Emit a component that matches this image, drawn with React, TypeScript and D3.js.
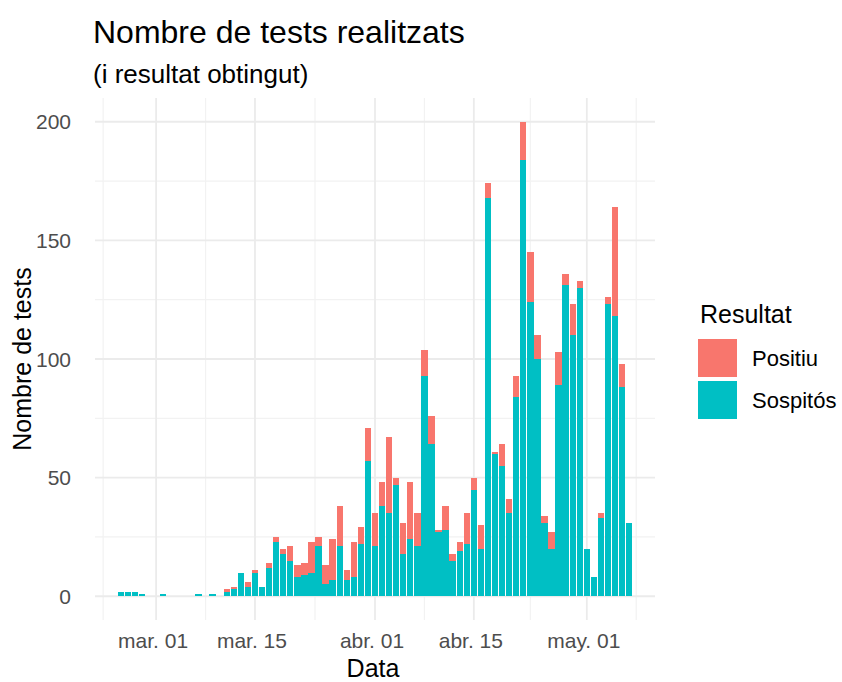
import React from "react";
import * as d3 from "d3";

const dates = [
  "2020-02-25", "2020-02-26", "2020-02-27", "2020-02-28", "2020-03-02", "2020-03-07", "2020-03-09",
  "2020-03-11", "2020-03-12", "2020-03-13", "2020-03-14", "2020-03-15", "2020-03-16", "2020-03-17",
  "2020-03-18", "2020-03-19", "2020-03-20", "2020-03-21", "2020-03-22", "2020-03-23", "2020-03-24",
  "2020-03-25", "2020-03-26", "2020-03-27", "2020-03-28", "2020-03-29", "2020-03-30", "2020-03-31",
  "2020-04-01", "2020-04-02", "2020-04-03", "2020-04-04", "2020-04-05", "2020-04-06", "2020-04-07",
  "2020-04-08", "2020-04-09", "2020-04-10", "2020-04-11", "2020-04-12", "2020-04-13", "2020-04-14",
  "2020-04-15", "2020-04-16", "2020-04-17", "2020-04-18", "2020-04-19", "2020-04-20", "2020-04-21",
  "2020-04-22", "2020-04-23", "2020-04-24", "2020-04-25", "2020-04-26", "2020-04-27", "2020-04-28",
  "2020-04-29", "2020-04-30", "2020-05-01", "2020-05-02", "2020-05-03", "2020-05-04", "2020-05-05",
  "2020-05-06", "2020-05-07",
];
const positiu = [
  0, 0, 0, 0, 0, 0, 0,
  1, 1, 0, 2, 1, 0, 2,
  2, 2, 6, 5, 5, 13, 4,
  8, 17, 17, 4, 15, 7, 14,
  14, 10, 32, 3, 13, 24, 14,
  11, 12, 1, 10, 3, 4, 13,
  5, 10, 6, 1, 9, 6, 9,
  16, 21, 10, 3, 7, 14, 5,
  13, 3, 0, 0, 2, 3, 46,
  10, 0,
];
const sospitos = [
  2, 2, 2, 1, 1, 1, 1,
  2, 3, 10, 4, 10, 4, 12,
  23, 18, 15, 8, 9, 10, 21,
  5, 7, 21, 7, 8, 22, 57,
  21, 38, 35, 47, 18, 24, 21,
  93, 64, 27, 28, 15, 19, 22,
  45, 20, 168, 60, 55, 35, 84,
  184, 124, 100, 31, 20, 89, 131,
  110, 130, 20, 8, 33, 123, 118,
  88, 31,
];

const xTickDates = ["2020-03-01", "2020-03-15", "2020-04-01", "2020-04-15", "2020-05-01"];
const xTickLabels = ["mar. 01", "mar. 15", "abr. 01", "abr. 15", "may. 01"];
const xOuterBreaks = ["2020-02-15", "2020-05-15"];
const yTicks = [0, 50, 100, 150, 200];
const yMinorTicks = [25, 75, 125, 175];

const seriesKeys = ["Sospitós", "Positiu"];
const seriesColors = ["#00BFC4", "#F8766D"];
const legendOrder = ["Positiu", "Sospitós"];

const DAY = 86400000;
const FONT = "'Liberation Sans', Arial, Helvetica, sans-serif";

export default function App() {
  const W = 842;
  const H = 682;
  const panel = { left: 95, right: 655, top: 98, bottom: 620 };

  const parsed = dates.map((d) => new Date(d + "T00:00:00Z").getTime());
  const minT = d3.min(parsed)! - 0.45 * DAY;
  const maxT = d3.max(parsed)! + 0.45 * DAY;
  const pad = (maxT - minT) * 0.044;

  const x = d3
    .scaleUtc()
    .domain([new Date(minT - pad), new Date(maxT + pad)])
    .range([panel.left, panel.right]);
  const y = d3.scaleLinear().domain([-10, 210]).range([panel.bottom, panel.top]);

  const table = dates.map((d, i) => ({
    t: parsed[i],
    "Sospitós": sospitos[i],
    Positiu: positiu[i],
  }));
  const stacked = d3.stack<any>().keys(seriesKeys)(table);

  const majorT = xTickDates.map((d) => new Date(d + "T00:00:00Z").getTime());
  const allBreaks = [
    new Date(xOuterBreaks[0] + "T00:00:00Z").getTime(),
    ...majorT,
    new Date(xOuterBreaks[1] + "T00:00:00Z").getTime(),
  ];
  const minorT = d3.pairs(allBreaks).map(([a, b]) => (a + b) / 2);

  const bw = x(new Date(0.9 * DAY)) - x(new Date(0));

  return (
    <svg width={W} height={H} style={{ display: "block", position: "absolute", left: 0, top: 0 }} fontFamily={FONT}>
      <rect width={W} height={H} fill="#ffffff" />
      {/* grid */}
      <g>
        {yMinorTicks.map((v) => (
          <line key={"ym" + v} x1={panel.left} x2={panel.right} y1={y(v)} y2={y(v)} stroke="#f2f2f2" strokeWidth={1.2} />
        ))}
        {minorT.map((t, i) => (
          <line key={"xm" + i} x1={x(new Date(t))} x2={x(new Date(t))} y1={panel.top} y2={panel.bottom} stroke="#f2f2f2" strokeWidth={1.2} />
        ))}
        {yTicks.map((v) => (
          <line key={"y" + v} x1={panel.left} x2={panel.right} y1={y(v)} y2={y(v)} stroke="#ebebeb" strokeWidth={1.8} />
        ))}
        {majorT.map((t, i) => (
          <line key={"x" + i} x1={x(new Date(t))} x2={x(new Date(t))} y1={panel.top} y2={panel.bottom} stroke="#ebebeb" strokeWidth={1.8} />
        ))}
      </g>
      {/* bars */}
      <g shapeRendering="crispEdges">
        {stacked.map((layer, li) => (
          <g key={layer.key} fill={seriesColors[li]}>
            {layer.map((seg: any, i: number) => {
              const h = y(seg[0]) - y(seg[1]);
              if (h <= 0) return null;
              return (
                <rect
                  key={i}
                  x={x(new Date(seg.data.t)) - bw / 2}
                  y={y(seg[1])}
                  width={bw}
                  height={h}
                />
              );
            })}
          </g>
        ))}
      </g>
      {/* y tick labels */}
      <g fill="#4d4d4d" fontSize={21} textAnchor="end">
        {yTicks.map((v) => (
          <text key={v} x={panel.left - 24} y={y(v)} dy="0.36em">
            {v}
          </text>
        ))}
      </g>
      {/* x tick labels */}
      <g fill="#4d4d4d" fontSize={21} textAnchor="middle">
        {majorT.map((t, i) => (
          <text key={i} x={x(new Date(t)) - 3} y={648}>
            {xTickLabels[i]}
          </text>
        ))}
      </g>
      {/* axis titles */}
      <text x={(panel.left + panel.right) / 2 - 2} y={677} textAnchor="middle" fontSize={25} fill="#000">
        Data
      </text>
      <text
        transform={`translate(31, ${(panel.top + panel.bottom) / 2}) rotate(-90)`}
        textAnchor="middle"
        fontSize={25}
        fill="#000"
      >
        Nombre de tests
      </text>
      {/* titles */}
      <text x={93} y={43} fontSize={32} fill="#000">
        Nombre de tests realitzats
      </text>
      <text x={93} y={83} fontSize={26} fill="#000">
        (i resultat obtingut)
      </text>
      {/* legend */}
      <text x={700} y={323} fontSize={25} fill="#000">
        Resultat
      </text>
      {legendOrder.map((k, i) => {
        const ci = seriesKeys.indexOf(k);
        const top = 339 + i * 42;
        return (
          <g key={k}>
            <rect x={698} y={top} width={39} height={38} fill={seriesColors[ci]} />
            <text x={752} y={top + 19} dy="0.36em" fontSize={22} fill="#000">
              {k}
            </text>
          </g>
        );
      })}
    </svg>
  );
}
